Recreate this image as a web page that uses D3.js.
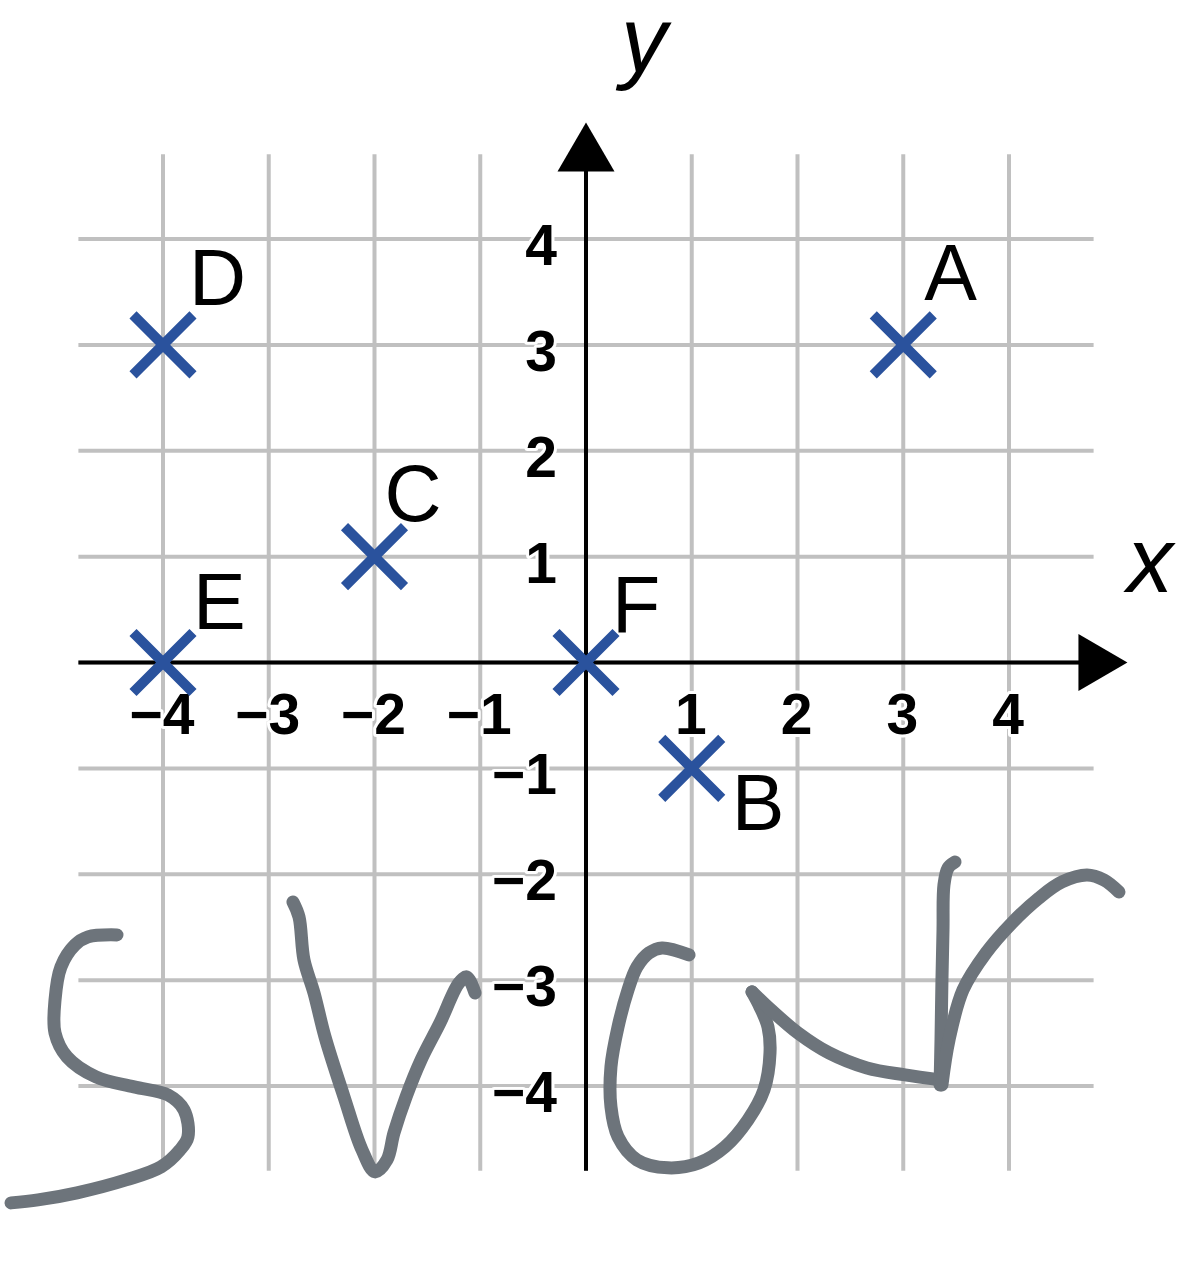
<!DOCTYPE html>
<html>
<head>
<meta charset="utf-8">
<script src="https://cdn.jsdelivr.net/npm/d3@7"></script>
<style>
  html, body { margin: 0; padding: 0; background: #ffffff; }
  svg { display: block; }
</style>
</head>
<body>
<svg id="chart" width="1200" height="1261"></svg>
<script>
// ---------- data ----------
const gridTicks = [-4, -3, -2, -1, 0, 1, 2, 3, 4];
const tickLabelValues = [-4, -3, -2, -1, 1, 2, 3, 4];
const pointNames = ["A", "B", "C", "D", "E", "F"];
const pointX = [3, 1, -2, -4, -4, 0];
const pointY = [3, -1, 1, 3, 0, 0];
const axisTitleX = "x";
const axisTitleY = "y";

// handwritten scribbles, in data units
const scribbleS = [[-4.435,-2.573],[-4.709,-2.592],[-4.832,-2.668],[-4.965,-2.875],[-5.021,-3.187],[-5.021,-3.499],[-4.908,-3.725],[-4.634,-3.914],[-4.274,-4.008],[-3.953,-4.084],[-3.801,-4.226],[-3.764,-4.481],[-3.839,-4.603],[-4.019,-4.764],[-4.350,-4.887],[-4.813,-5.009],[-5.182,-5.076],[-5.437,-5.104]];
const scribbleV = [[-2.771,-2.262],[-2.714,-2.403],[-2.667,-2.809],[-2.572,-3.121],[-2.468,-3.536],[-2.288,-4.103],[-2.118,-4.603],[-1.995,-4.811],[-1.882,-4.698],[-1.816,-4.443],[-1.702,-4.103],[-1.560,-3.754],[-1.381,-3.404],[-1.201,-3.026],[-1.125,-2.970],[-1.050,-3.121]];
const scribbleLoop = [[0.974,-2.762],[0.719,-2.696],[0.596,-2.743],[0.482,-2.875],[0.397,-3.093],[0.303,-3.442],[0.236,-3.820],[0.236,-4.197],[0.303,-4.481],[0.482,-4.698],[0.775,-4.773],[1.069,-4.726],[1.314,-4.575],[1.532,-4.320],[1.683,-4.037],[1.740,-3.687],[1.721,-3.442],[1.645,-3.253],[1.570,-3.111]];
const scribbleSweep = [[1.570,-3.111],[1.749,-3.281],[2.005,-3.499],[2.298,-3.687],[2.657,-3.829],[3.017,-3.895],[3.348,-3.942]];
const scribbleStem = [[3.348,-3.990],[3.357,-3.565],[3.366,-2.998],[3.376,-2.526],[3.385,-2.101],[3.423,-1.941],[3.489,-1.884]];
const scribbleHook = [[3.366,-3.990],[3.433,-3.565],[3.565,-3.093],[3.783,-2.743],[4.028,-2.460],[4.284,-2.224],[4.501,-2.073],[4.738,-2.007],[4.898,-2.054],[5.040,-2.167]];
const scribbles = [scribbleS, scribbleV, scribbleLoop, scribbleSweep, scribbleStem, scribbleHook];

// ---------- layout ----------
const gridExtent = 4.8;
const arrowTipX = 5.12, arrowTipY = 5.1;
const x = d3.scaleLinear().domain([-4, 4]).range([163, 1009]);
const y = d3.scaleLinear().domain([-4, 4]).range([1086, 239]);

const labelOffsets = { A: [21, -45], B: [40, 62], C: [10, -36], D: [26, -40], E: [30, -34], F: [26, -31] };

const svg = d3.select("#chart");
const FONT = "'Liberation Sans', Arial, Helvetica, sans-serif";

// grid
const grid = svg.append("g").attr("stroke", "#c0c0c0").attr("stroke-width", 4);
grid.selectAll("line.v").data(gridTicks).join("line").attr("class", "v")
  .attr("x1", d => x(d)).attr("x2", d => x(d))
  .attr("y1", y(gridExtent)).attr("y2", y(-gridExtent));
grid.selectAll("line.h").data(gridTicks).join("line").attr("class", "h")
  .attr("y1", d => y(d)).attr("y2", d => y(d))
  .attr("x1", x(-gridExtent)).attr("x2", x(gridExtent));

// axes with arrows
const arrowLen = 49, arrowHalf = 28.5;
const axes = svg.append("g");
axes.append("line")
  .attr("x1", x(-gridExtent)).attr("x2", x(arrowTipX) - arrowLen + 2)
  .attr("y1", y(0)).attr("y2", y(0))
  .attr("stroke", "#000").attr("stroke-width", 4);
axes.append("path")
  .attr("d", `M${x(arrowTipX)},${y(0)} L${x(arrowTipX) - arrowLen},${y(0) - arrowHalf} L${x(arrowTipX) - arrowLen},${y(0) + arrowHalf} Z`)
  .attr("fill", "#000");
axes.append("line")
  .attr("x1", x(0)).attr("x2", x(0))
  .attr("y1", y(-gridExtent)).attr("y2", y(arrowTipY) + arrowLen - 2)
  .attr("stroke", "#000").attr("stroke-width", 4);
axes.append("path")
  .attr("d", `M${x(0)},${y(arrowTipY)} L${x(0) - arrowHalf},${y(arrowTipY) + arrowLen} L${x(0) + arrowHalf},${y(arrowTipY) + arrowLen} Z`)
  .attr("fill", "#000");

// tick labels
const fmt = d => (d < 0 ? "\u2212" + Math.abs(d) : String(d));
const ticks = svg.append("g")
  .attr("font-family", FONT).attr("font-weight", "bold").attr("font-size", 57)
  .attr("fill", "#000").attr("stroke", "#fff").attr("stroke-width", 6)
  .attr("paint-order", "stroke").attr("stroke-linejoin", "round");
ticks.selectAll("text.xt").data(tickLabelValues).join("text").attr("class", "xt")
  .attr("x", d => x(d) - 1).attr("y", y(0) + 71)
  .attr("text-anchor", "middle").text(fmt);
ticks.selectAll("text.yt").data(tickLabelValues).join("text").attr("class", "yt")
  .attr("x", x(0) - 29).attr("y", d => y(d) + 26)
  .attr("text-anchor", "end").text(fmt);

// axis titles
svg.append("text").attr("x", x(0) + 58).attr("y", 72)
  .attr("font-family", FONT).attr("font-style", "italic").attr("font-size", 92)
  .attr("text-anchor", "middle").text(axisTitleY);
svg.append("text").attr("x", 1150).attr("y", y(0) - 71)
  .attr("font-family", FONT).attr("font-style", "italic").attr("font-size", 92)
  .attr("text-anchor", "middle").text(axisTitleX);

// points
const pts = pointNames.map((n, i) => ({ name: n, x: pointX[i], y: pointY[i] }));
const ms = 30;
const marks = svg.append("g").attr("stroke", "#2a529d").attr("stroke-width", 10).attr("fill", "none");
marks.selectAll("path").data(pts).join("path")
  .attr("d", d => {
    const cx = x(d.x), cy = y(d.y);
    return `M${cx - ms},${cy - ms}L${cx + ms},${cy + ms}M${cx - ms},${cy + ms}L${cx + ms},${cy - ms}`;
  });
svg.append("g").attr("font-family", FONT).attr("font-size", 79).attr("fill", "#000")
  .selectAll("text").data(pts).join("text")
  .attr("x", d => x(d.x) + labelOffsets[d.name][0])
  .attr("y", d => y(d.y) + labelOffsets[d.name][1])
  .text(d => d.name);

// scribbles
const line = d3.line().x(d => x(d[0])).y(d => y(d[1])).curve(d3.curveCatmullRom.alpha(0.5));
svg.append("g").attr("fill", "none").attr("stroke", "#6d747b").attr("stroke-width", 13)
  .attr("stroke-linecap", "round").attr("stroke-linejoin", "round")
  .selectAll("path").data(scribbles).join("path").attr("d", line);
</script>
</body>
</html>
